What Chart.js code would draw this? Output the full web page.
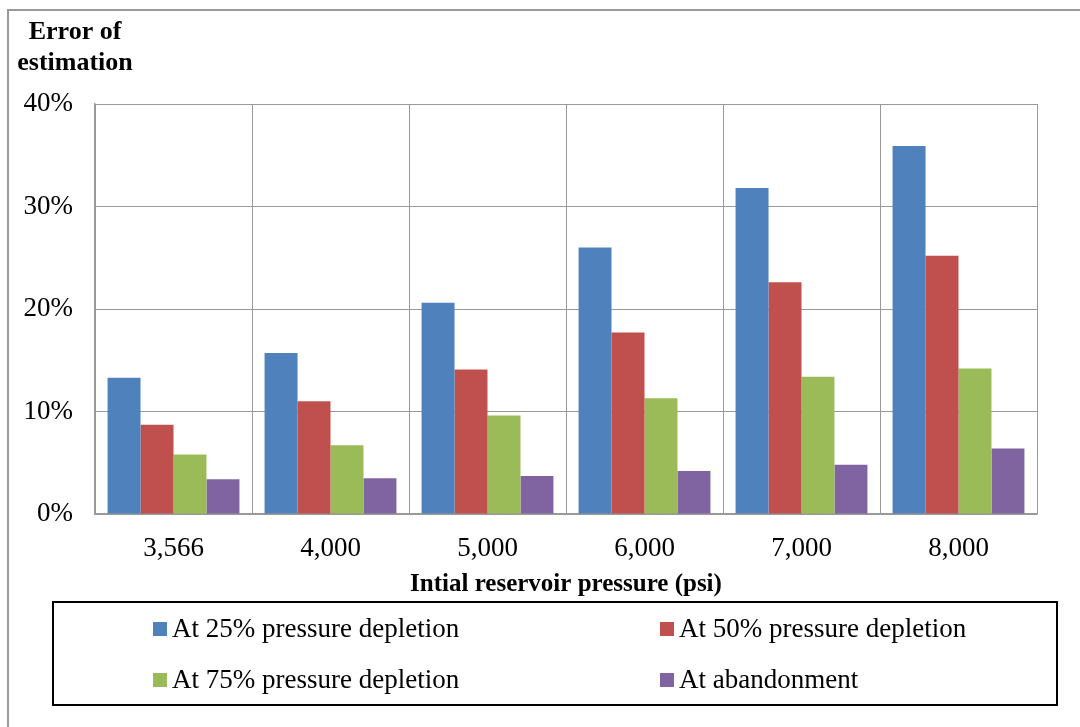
<!DOCTYPE html>
<html>
<head>
<meta charset="utf-8">
<script src="https://cdn.jsdelivr.net/npm/chart.js@4/dist/chart.umd.min.js"></script>
<style>
  html, body { margin: 0; padding: 0; background: #fff; }
  #wrap { width: 1080px; height: 727px; position: relative; }
</style>
</head>
<body>
<div id="wrap"><canvas id="errChart" width="1080" height="727"></canvas></div>
<script>
// категорії та серії
const pressures = ['3,566', '4,000', '5,000', '6,000', '7,000', '8,000'];
const seriesNames = ['At 25% pressure depletion', 'At 50% pressure depletion', 'At 75% pressure depletion', 'At abandonment'];
const at25 = [13.3, 15.7, 20.6, 26.0, 31.8, 35.9];
const at50 = [8.7, 11.0, 14.1, 17.7, 22.6, 25.2];
const at75 = [5.8, 6.7, 9.6, 11.3, 13.4, 14.2];
const atAbandon = [3.4, 3.5, 3.7, 4.2, 4.8, 6.4];
const yTicks = [0, 10, 20, 30, 40];

const colors = ['#4F81BD', '#C0504D', '#9BBB59', '#8064A2'];
const fontFamily = '"Liberation Serif", "Times New Roman", serif';

// рамка, заголовок осі Y і легенда в рамці
const decorPlugin = {
  id: 'decor',
  afterDraw(chart) {
    const ctx = chart.ctx;
    ctx.save();
    // зовнішня рамка
    ctx.strokeStyle = '#9a9a9a';
    ctx.lineWidth = 2;
    ctx.beginPath();
    ctx.moveTo(8, 730);
    ctx.lineTo(8, 10);
    ctx.lineTo(1085, 10);
    ctx.stroke();

    // заголовок осі Y
    ctx.fillStyle = '#000';
    ctx.font = 'bold 26px ' + fontFamily;
    ctx.textAlign = 'center';
    ctx.textBaseline = 'middle';
    ctx.fillText('Error of', 75, 32);
    ctx.fillText('estimation', 75, 63);

    // легенда
    ctx.strokeStyle = '#000';
    ctx.lineWidth = 2;
    ctx.strokeRect(53, 602, 1004, 103);
    ctx.font = '27px ' + fontFamily;
    ctx.textAlign = 'left';
    const xs = [153, 660];
    const ys = [629, 680];
    chart.data.datasets.forEach((ds, i) => {
      const x = xs[i % 2];
      const y = ys[Math.floor(i / 2)];
      ctx.fillStyle = ds.backgroundColor;
      ctx.fillRect(x, y - 7, 14, 14);
      ctx.fillStyle = '#000';
      ctx.fillText(ds.label, x + 19, y + 1);
    });
    ctx.restore();
  }
};

const ctx = document.getElementById('errChart').getContext('2d');
const errChart = new Chart(ctx, {
  type: 'bar',
  data: {
    labels: pressures,
    datasets: [at25, at50, at75, atAbandon].map((arr, i) => ({
      label: seriesNames[i],
      data: arr,
      backgroundColor: colors[i],
      borderWidth: 0
    }))
  },
  options: {
    responsive: false,
    animation: false,
    layout: { padding: { top: 104, left: 0, right: 43, bottom: 127 } },
    datasets: {
      bar: { categoryPercentage: 0.84, barPercentage: 1.0 }
    },
    scales: {
      x: {
        offset: true,
        grid: { offset: true, color: '#999', lineWidth: 1, drawTicks: false },
        border: { color: '#999', width: 1.5 },
        ticks: { color: '#000', font: { family: fontFamily, size: 27 }, padding: 19 },
        title: {
          display: true,
          text: 'Intial reservoir pressure (psi)',
          color: '#000',
          font: { family: fontFamily, size: 25, weight: 'bold' },
          padding: { top: 0, bottom: 0 }
        },
        afterFit(scale) { scale.height = 86; }
      },
      y: {
        min: 0,
        max: 40,
        afterBuildTicks(scale) { scale.ticks = yTicks.map(v => ({ value: v })); },
        grid: { color: '#999', lineWidth: 1, drawTicks: false },
        border: { color: '#999', width: 1.5 },
        ticks: {
          color: '#000',
          font: { family: fontFamily, size: 27 },
          padding: 22,
          callback: v => v + '%'
        },
        afterFit(scale) { scale.width = 95; }
      }
    },
    plugins: {
      legend: { display: false },
      tooltip: { enabled: false }
    }
  },
  plugins: [decorPlugin]
});
</script>
</body>
</html>
